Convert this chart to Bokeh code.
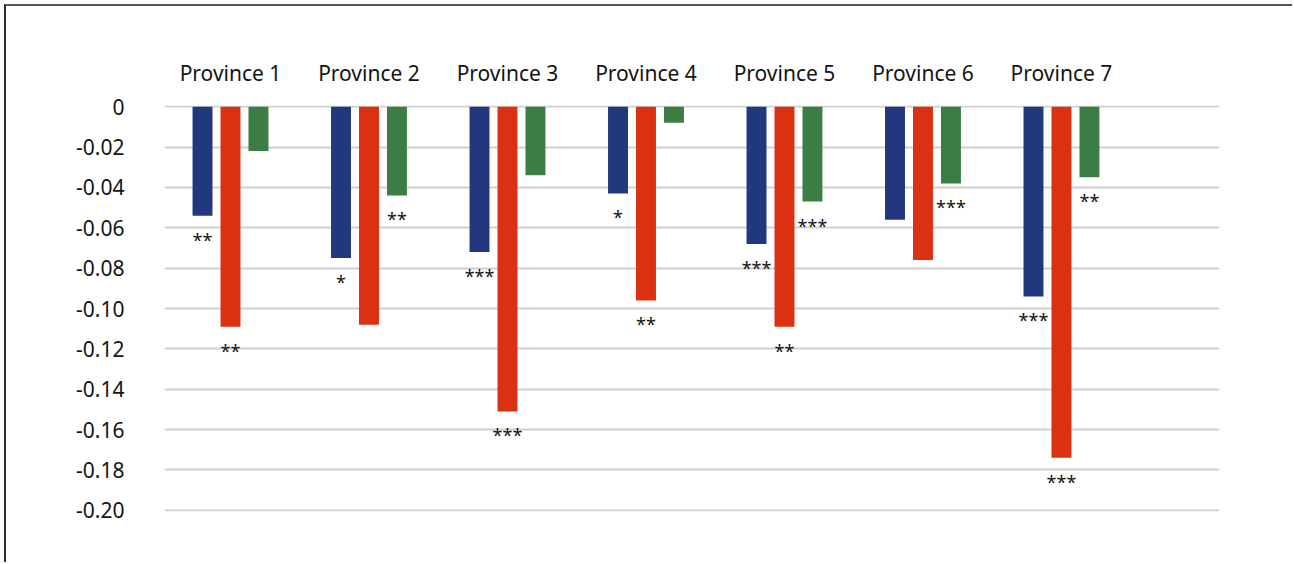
from bokeh.plotting import figure
from bokeh.models import ColumnDataSource, FixedTicker, Range1d
from bokeh.core.properties import value
from bokeh.embed import file_html
from bokeh.resources import INLINE

# ---- data ----
provinces = ["Province 1", "Province 2", "Province 3", "Province 4",
             "Province 5", "Province 6", "Province 7"]
series1_vals = [-0.054, -0.075, -0.072, -0.043, -0.068, -0.056, -0.094]
series2_vals = [-0.109, -0.108, -0.151, -0.096, -0.109, -0.076, -0.174]
series3_vals = [-0.022, -0.044, -0.034, -0.008, -0.047, -0.038, -0.035]
series1_sig = ["**", "*", "***", "*", "***", "", "***"]
series2_sig = ["**", "", "***", "**", "**", "", "***"]
series3_sig = ["", "**", "", "", "***", "***", "**"]
y_ticks = [0, -0.02, -0.04, -0.06, -0.08, -0.10, -0.12, -0.14, -0.16, -0.18, -0.20]
y_tick_labels = ["0", "-0.02", "-0.04", "-0.06", "-0.08", "-0.10",
                 "-0.12", "-0.14", "-0.16", "-0.18", "-0.20"]

FONT = "Noto Sans"
TEXT_COLOR = "#141414"
colors = ["#21387e", "#dc3012", "#3c7d45"]
offsets = [-0.202, 0.0, 0.202]
bar_width = 0.144

# a sliver of headroom on both ends keeps the 0 and -0.20 gridlines inside the frame
p = figure(width=1288, height=558,
           x_range=Range1d(-0.4765, 7.141), y_range=Range1d(-0.2006, 0.0006),
           x_axis_location="above",
           output_backend="svg", toolbar_location=None,
           min_border_left=158, min_border_top=99,
           min_border_right=75, min_border_bottom=53)
p.styles = {"margin-left": "4px", "margin-top": "4px",
            "border-left": "2px solid #2e2e2e", "border-top": "2px solid #555555"}
p.outline_line_color = None
p.background_fill_color = "white"
p.border_fill_color = "white"

# gridlines
p.xgrid.visible = False
p.ygrid.ticker = FixedTicker(ticks=y_ticks)
p.ygrid.grid_line_color = "#d0d0d0"
p.ygrid.grid_line_width = 2

# value axis
p.yaxis.ticker = FixedTicker(ticks=y_ticks)
p.yaxis.major_label_overrides = dict(zip(y_ticks, y_tick_labels))
p.yaxis.axis_line_color = None
p.yaxis.major_tick_line_color = None
p.yaxis.minor_tick_line_color = None
p.yaxis.major_tick_out = 0
p.yaxis.minor_tick_out = 0
p.yaxis.major_label_standoff = 40
p.yaxis.major_label_text_font = FONT
p.yaxis.major_label_text_font_size = "21px"
p.yaxis.major_label_text_color = TEXT_COLOR

# category axis along the top
p.xaxis.ticker = FixedTicker(ticks=list(range(len(provinces))))
p.xaxis.major_label_overrides = {i: name for i, name in enumerate(provinces)}
p.xaxis.axis_line_color = None
p.xaxis.major_tick_line_color = None
p.xaxis.minor_tick_line_color = None
p.xaxis.major_tick_out = 0
p.xaxis.minor_tick_out = 0
p.xaxis.major_label_standoff = 19
p.xaxis.major_label_text_font = FONT
p.xaxis.major_label_text_font_size = "21px"
p.xaxis.major_label_text_color = TEXT_COLOR

for vals, sig, color, off in zip([series1_vals, series2_vals, series3_vals],
                                 [series1_sig, series2_sig, series3_sig],
                                 colors, offsets):
    src = ColumnDataSource(dict(
        x=[i + off for i in range(len(provinces))],
        top=[0.0] * len(vals),
        bottom=vals,
        sig=sig,
    ))
    p.vbar(x="x", top="top", bottom="bottom", width=bar_width, source=src,
           fill_color=color, line_color=None)
    p.text(x="x", y="bottom", text="sig", source=src,
           text_align="center", text_baseline="middle", y_offset=24,
           text_font=value(FONT), text_font_size="18px", text_color=TEXT_COLOR)

open("out.html", "w").write(file_html(p, INLINE))
